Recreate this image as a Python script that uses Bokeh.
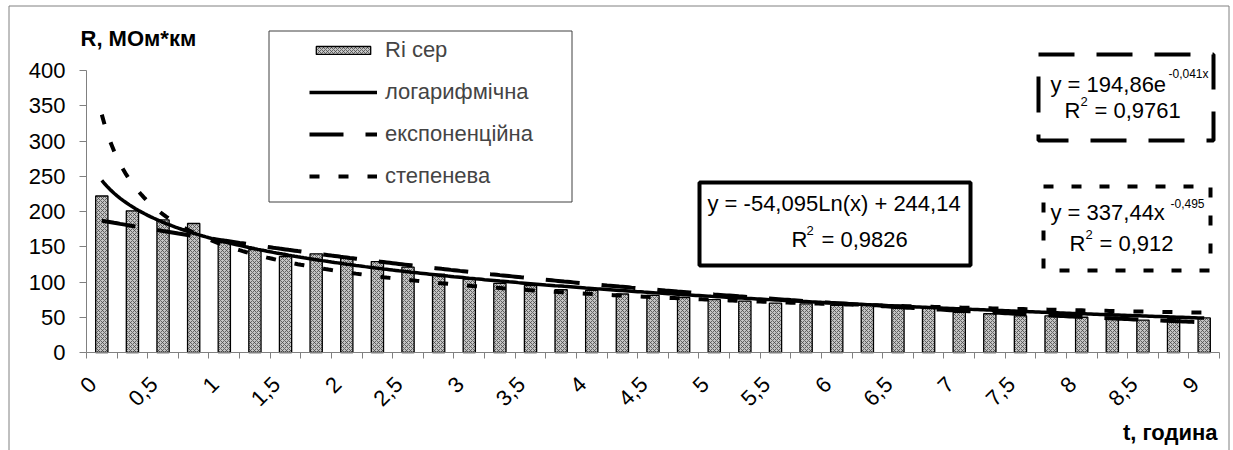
import math
import numpy as np
from bokeh.plotting import figure
from bokeh.models import (Range1d, FixedTicker, CustomJSTickFormatter, Legend, LegendItem,
                          Label, BoxAnnotation, ColumnDataSource)
from bokeh.embed import file_html
from bokeh.resources import INLINE

# ---------------- data ----------------
categories = [f"{i * 0.25:g}".replace(".", ",") for i in range(37)]   # time, hours (0 .. 9 step 0,25)
r_mean = [222, 201, 188, 183, 156, 146, 136, 140, 134, 129, 121, 111, 104,
          98, 95, 89, 88, 83, 81, 78, 75, 73, 70, 69, 67, 68, 67, 63,
          57, 55, 52, 52, 50, 50, 46, 48, 49]
x_tick_labels = ["0", "0,5", "1", "1,5", "2", "2,5", "3", "3,5", "4", "4,5", "5",
                 "5,5", "6", "6,5", "7", "7,5", "8", "8,5", "9"]
y_ticks = [0, 50, 100, 150, 200, 250, 300, 350, 400]
# trend line coefficients as printed on the chart (x = category number 1..37)
log_a, log_b = -54.095, 244.14
exp_a, exp_k = 194.86, -0.041
pow_a, pow_k = 337.44, -0.495
series_names = ["Ri сер", "логарифмічна", "експоненційна", "степенева"]

# ---------------- layout (page pixels) ----------------
W, H = 1233, 450
FL, FR, FT, FB = 86, 1219, 70, 352      # plot area edges
NCAT = len(r_mean)
XPX = (FR - FL) / NCAT
YPX = (FB - FT) / 400.0
FONT = "Liberation Sans"
FS = "22px"

def px(x):
    return (x - FL) / XPX - 0.5

def py(y):
    return (FB - y) / YPX

p = figure(width=W, height=H, output_backend="svg", toolbar_location=None,
           x_range=Range1d(px(0), px(W)), y_range=Range1d(py(H), py(0)),
           min_border=0, min_border_left=0, min_border_right=0,
           min_border_top=0, min_border_bottom=0)
p.title.visible = False
p.outline_line_color = None
p.grid.visible = False
p.background_fill_color = "white"
p.border_fill_color = "white"

# axes (drawn at the plot-area edges)
SHIFT = 0.3
xa = p.xaxis[0]
xa.fixed_location = 0
xa.bounds = (-0.5, NCAT - 0.5)
xa.ticker = FixedTicker(ticks=[2 * k - SHIFT for k in range(len(x_tick_labels))],
                        minor_ticks=[i - 0.5 for i in range(NCAT + 1)])
xa.formatter = CustomJSTickFormatter(args=dict(labels=x_tick_labels, shift=SHIFT),
                                     code="return labels[Math.round((tick + shift) / 2)];")
xa.major_tick_line_color = None
xa.minor_tick_line_color = "#808080"
xa.minor_tick_out = 6
xa.minor_tick_in = 0
xa.axis_line_color = "#808080"
xa.major_label_orientation = math.pi / 4
xa.major_label_standoff = 22
xa.major_label_text_font = FONT
xa.major_label_text_font_size = FS
xa.major_label_text_color = "black"

ya = p.yaxis[0]
ya.fixed_location = -0.5
ya.bounds = (0, 400)
ya.ticker = FixedTicker(ticks=y_ticks, minor_ticks=[])
ya.axis_line_color = "#808080"
ya.major_tick_line_color = "#808080"
ya.major_tick_out = 7
ya.major_tick_in = 0
ya.major_label_standoff = 14
ya.major_label_text_font = FONT
ya.major_label_text_font_size = FS
ya.major_label_text_color = "black"

# outer chart border
p.add_layout(BoxAnnotation(left=px(8.5), right=px(1228.5), top=py(5.5), bottom=py(H + 30),
                           fill_alpha=0, line_color="#808080", line_alpha=1, line_width=1))

# bars
src = ColumnDataSource(dict(x=list(range(NCAT)), top=r_mean, cat=categories))
bars = p.vbar(x="x", top="top", width=0.4, bottom=0, source=src,
              fill_color="#c4c4c4", line_color="black", line_width=1.3,
              hatch_pattern="x", hatch_color="#4a4a4a", hatch_scale=4, hatch_weight=0.8)

# trend lines (from the equations shown on the chart)
xs = np.linspace(1, NCAT, 361)
log_line = p.line(xs - 1, log_a * np.log(xs) + log_b, line_color="black", line_width=3.5)
exp_line = p.line(xs - 1, exp_a * np.exp(exp_k * xs), line_color="black", line_width=4,
                  line_dash="34 22")
pow_line = p.line(xs - 1, pow_a * xs ** pow_k, line_color="black", line_width=4,
                  line_dash="10 19")

# legend box + legend
p.add_layout(BoxAnnotation(left=px(268.5), right=px(571.5), top=py(30.5), bottom=py(201.5),
                           fill_color="white", fill_alpha=1, line_color="#404040",
                           line_alpha=1, line_width=1))
legend = Legend(items=[LegendItem(label=series_names[0], renderers=[bars]),
                       LegendItem(label=series_names[1], renderers=[log_line]),
                       LegendItem(label=series_names[2], renderers=[exp_line]),
                       LegendItem(label=series_names[3], renderers=[pow_line])],
                location=(309, H - 189), orientation="vertical",
                glyph_width=68, glyph_height=10, label_height=24, spacing=16,
                label_standoff=8, padding=0, margin=0,
                label_text_font=FONT, label_text_font_size=FS,
                border_line_color=None, background_fill_alpha=0)
p.add_layout(legend)

def txt(x, y, s, size=FS, align="left", style="normal"):
    p.add_layout(Label(x=px(x), y=py(y), text=s, text_font=FONT, text_font_size=size,
                       text_align=align, text_baseline="middle", text_font_style=style,
                       text_color="black"))

# axis titles
txt(80, 38, "R, МОм*км", style="bold")
txt(1217, 432, "t, година", align="right", style="bold")

# logarithmic equation box
p.add_layout(BoxAnnotation(left=px(699), right=px(970), top=py(182), bottom=py(265),
                           fill_color="white", fill_alpha=1, line_color="black",
                           line_alpha=1, line_width=4))
txt(707, 203, "y = -54,095Ln(x) + 244,14")
txt(791, 239, "R")
txt(806, 230, "2", size="13px")
txt(821, 239, "= 0,9826")

# exponential equation box
p.add_layout(BoxAnnotation(left=px(1038), right=px(1213), top=py(54), bottom=py(140),
                           fill_color="white", fill_alpha=1, line_color="black",
                           line_alpha=1, line_width=4, line_dash="36 22"))
txt(1050, 84, "y = 194,86e")
txt(1168, 73, "-0,041x", size="12px")
txt(1064, 110, "R")
txt(1080, 101, "2", size="13px")
txt(1094, 110, "= 0,9761")

# power equation box
p.add_layout(BoxAnnotation(left=px(1043), right=px(1210), top=py(186), bottom=py(270),
                           fill_color="white", fill_alpha=1, line_color="black",
                           line_alpha=1, line_width=4, line_dash="10 18"))
txt(1050, 212, "y = 337,44x")
txt(1170, 203, "-0,495", size="12px")
txt(1069, 243, "R")
txt(1085, 234, "2", size="13px")
txt(1099, 243, "= 0,912")

open("out.html", "w").write(file_html(p, INLINE))
